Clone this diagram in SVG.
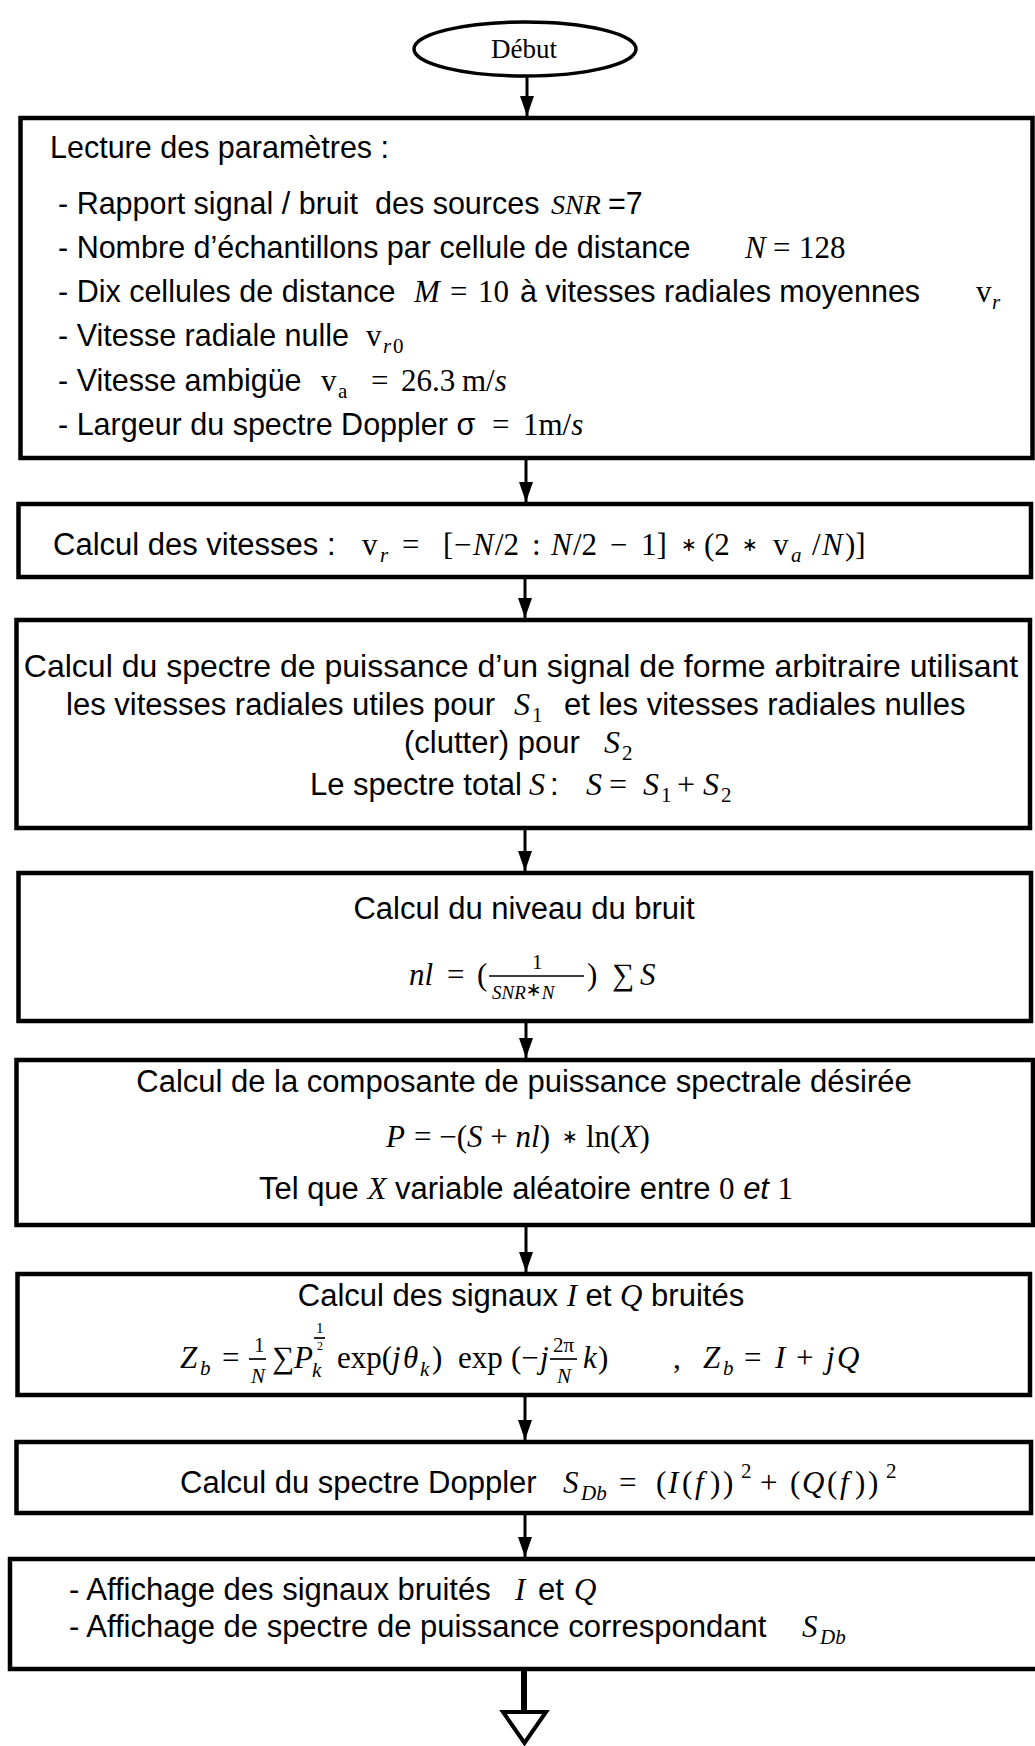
<svg xmlns="http://www.w3.org/2000/svg" width="1035" height="1746" viewBox="0 0 1035 1746">
  <style>
    .box { fill: #fff; stroke: #000; stroke-width: 4.5; }
    .edge { stroke: #000; stroke-width: 3; fill: none; }
    .t { font-family: "Liberation Sans", Arial, sans-serif; font-size: 31px; fill: #000; }
    .t1 { font-size: 30.5px; }
    .t3 { font-size: 32px; }
    .ti { font-family: "Liberation Sans", Arial, sans-serif; font-style: italic; }
    .m { font-family: "Liberation Serif", "Times New Roman", serif; font-size: 31px; font-style: italic; fill: #000; }
    .u { font-family: "Liberation Serif", "Times New Roman", serif; font-style: normal; }
    .i { font-family: "Liberation Serif", "Times New Roman", serif; font-style: italic; }
    .ast { font-family: "DejaVu Sans", sans-serif; font-style: normal; font-size: 19px; }
    .s { font-size: 21px; }
    .xs { font-size: 19px; }
    .c { text-anchor: middle; }
    .bar { stroke: #000; stroke-width: 1.7; }
  </style>
  <defs>
    <marker id="head" viewBox="0 0 20 14" refX="20" refY="7" markerWidth="20" markerHeight="14" markerUnits="userSpaceOnUse" orient="auto">
      <path d="M0,0 L20,7 L0,14 Z" fill="#000"/>
    </marker>
  </defs>

  <!-- connectors -->
  <g id="connectors">
    <line class="edge" x1="527" y1="76" x2="527" y2="116" marker-end="url(#head)"/>
    <line class="edge" x1="526" y1="458" x2="526" y2="502" marker-end="url(#head)"/>
    <line class="edge" x1="525" y1="577" x2="525" y2="618" marker-end="url(#head)"/>
    <line class="edge" x1="525" y1="830" x2="525" y2="871" marker-end="url(#head)"/>
    <line class="edge" x1="526" y1="1021" x2="526" y2="1058" marker-end="url(#head)"/>
    <line class="edge" x1="526" y1="1225" x2="526" y2="1272" marker-end="url(#head)"/>
    <line class="edge" x1="525" y1="1397" x2="525" y2="1440" marker-end="url(#head)"/>
    <line class="edge" x1="525" y1="1513" x2="525" y2="1557" marker-end="url(#head)"/>
    <line x1="524" y1="1669" x2="524" y2="1712" stroke="#000" stroke-width="6"/>
    <path d="M503,1712 L546,1712 L524.5,1743 Z" fill="#fff" stroke="#000" stroke-width="4"/>
  </g>

  <!-- start terminal -->
  <g id="start">
    <ellipse cx="525" cy="49" rx="111" ry="27" fill="#fff" stroke="#000" stroke-width="3.5"/>
    <text x="524" y="58" class="c" font-family="Liberation Serif, Times New Roman, serif" font-size="27">Début</text>
  </g>

  <!-- parameters -->
  <g id="params">
    <rect class="box" x="20.5" y="118" width="1012" height="340"/>
    <text class="t t1" x="50" y="158">Lecture des paramètres :</text>
    <text class="t t1" y="214"><tspan x="58">- Rapport signal / bruit&#160; des sources</tspan><tspan class="i" x="551" font-size="28">SNR</tspan><tspan x="608">=7</tspan></text>
    <text class="t t1" y="258"><tspan x="58">- Nombre d’échantillons par cellule de distance</tspan><tspan class="i" x="745" font-size="31">N</tspan><tspan class="u" x="773" font-size="31">=</tspan><tspan class="u" x="799" font-size="31">128</tspan></text>
    <text class="t t1" y="302"><tspan x="58">- Dix cellules de distance</tspan><tspan class="i" x="414" font-size="31">M</tspan><tspan class="u" x="450" font-size="31">=</tspan><tspan class="u" x="478" font-size="31">10</tspan><tspan x="520">à vitesses radiales moyennes</tspan><tspan class="u" x="976" font-size="31">v</tspan><tspan class="i s" x="992" y="309">r</tspan></text>
    <text class="t t1" y="346"><tspan x="58">- Vitesse radiale nulle</tspan><tspan class="u" x="366" font-size="31">v</tspan><tspan class="i s" x="383" y="353">r</tspan><tspan class="u s" x="393" y="353">0</tspan></text>
    <text class="t t1" y="391"><tspan x="58">- Vitesse ambigüe</tspan><tspan class="u" x="321" font-size="31">v</tspan><tspan class="u s" x="338" y="398">a</tspan><tspan class="u" x="371" y="391" font-size="31">=</tspan><tspan class="u" x="401" font-size="31">26.3</tspan><tspan class="u" x="462" font-size="31">m/</tspan><tspan class="i" font-size="31">s</tspan></text>
    <text class="t t1" y="435"><tspan x="58">- Largeur du spectre Doppler σ</tspan><tspan class="u" x="492" font-size="31">=</tspan><tspan class="u" x="523" font-size="31">1m/</tspan><tspan class="i" font-size="31">s</tspan></text>
  </g>

  <!-- radial speeds -->
  <g id="speeds">
    <rect class="box" x="18.5" y="504" width="1012.5" height="73"/>
    <text class="t" x="53" y="555">Calcul des vitesses :</text>
    <text class="m" y="555" font-size="33">
      <tspan class="u" x="362">v</tspan><tspan class="s" x="380" y="562">r</tspan><tspan class="u" x="402" y="555">=</tspan>
      <tspan class="u" x="443">[</tspan><tspan class="u" x="454">−</tspan><tspan x="473">N</tspan><tspan class="u" x="495">/2</tspan>
      <tspan class="u" x="532">:</tspan>
      <tspan x="551">N</tspan><tspan class="u" x="573">/2</tspan>
      <tspan class="u" x="610">−</tspan><tspan class="u" x="641">1]</tspan>
      <tspan class="ast" x="681" y="551">∗</tspan>
      <tspan class="u" x="704" y="555">(2</tspan><tspan class="ast" x="742" y="551">∗</tspan>
      <tspan class="u" x="773" y="555">v</tspan><tspan class="s" x="791" y="562">a</tspan>
      <tspan class="u" x="812" y="555">/</tspan><tspan x="822">N</tspan><tspan class="u" x="845">)]</tspan>
    </text>
  </g>

  <!-- power spectrum -->
  <g id="spectrum">
    <rect class="box" x="16.5" y="620" width="1013.5" height="208"/>
    <text class="t t3 c" x="521" y="677">Calcul du spectre de puissance d’un signal de forme arbitraire utilisant</text>
    <text class="t" y="715" font-size="31.5"><tspan x="66">les vitesses radiales utiles pour</tspan><tspan class="i" x="514" font-size="32">S</tspan><tspan class="u s" x="532" y="722">1</tspan><tspan x="564" y="715">et les vitesses radiales nulles</tspan></text>
    <text class="t" y="753" font-size="31.5"><tspan x="404">(clutter) pour</tspan><tspan class="i" x="604" font-size="32">S</tspan><tspan class="u s" x="622" y="760">2</tspan></text>
    <text class="t" y="795" font-size="31.5"><tspan x="310">Le spectre total</tspan><tspan class="i" x="529" font-size="32">S</tspan><tspan x="550">:</tspan><tspan class="i" x="586" font-size="32">S</tspan><tspan class="u" x="609" font-size="32">=</tspan><tspan class="i" x="643" font-size="32">S</tspan><tspan class="u s" x="661" y="802">1</tspan><tspan class="u" x="677" y="795" font-size="32">+</tspan><tspan class="i" x="703" font-size="32">S</tspan><tspan class="u s" x="721" y="802">2</tspan></text>
  </g>

  <!-- noise level -->
  <g id="noise">
    <rect class="box" x="18.5" y="873" width="1012.5" height="148"/>
    <text class="t c" x="524" y="919">Calcul du niveau du bruit</text>
    <text class="m" y="985">
      <tspan x="409">nl</tspan><tspan class="u" x="447">=</tspan><tspan class="u" x="477">(</tspan>
      <tspan class="u s" x="532" y="969">1</tspan>
      <tspan class="xs" x="492" y="999">SNR</tspan><tspan class="ast" font-size="13" y="996">∗</tspan><tspan class="xs" y="999">N</tspan>
      <tspan class="u" x="587" y="985">)</tspan><tspan class="u" x="612">∑</tspan><tspan x="640">S</tspan>
    </text>
    <line class="bar" x1="489" y1="976" x2="584" y2="976"/>
  </g>

  <!-- spectral power component -->
  <g id="power">
    <rect class="box" x="16.5" y="1060" width="1016.5" height="165"/>
    <text class="t c" x="524" y="1092" font-size="31.5">Calcul de la composante de puissance spectrale désirée</text>
    <text class="m" y="1147" font-size="32.5"><tspan x="386">P</tspan><tspan class="u" x="414">= −(</tspan><tspan>S</tspan><tspan class="u"> + </tspan><tspan>nl</tspan><tspan class="u">)</tspan><tspan class="ast" x="562" y="1143">∗</tspan><tspan class="u" x="586" y="1147">ln(</tspan><tspan>X</tspan><tspan class="u">)</tspan></text>
    <text class="t c" x="526" y="1199">Tel que <tspan class="i" font-size="31">X</tspan> variable aléatoire entre <tspan class="u" font-size="31">0</tspan> <tspan class="ti">et</tspan> <tspan class="u" font-size="31">1</tspan></text>
  </g>

  <!-- noisy I/Q signals -->
  <g id="iq">
    <rect class="box" x="17.5" y="1274" width="1012.5" height="121"/>
    <text class="t c" x="521" y="1306" font-size="31.5">Calcul des signaux <tspan class="i" font-size="31">I</tspan> et <tspan class="i" font-size="31">Q</tspan> bruités</text>
    <text class="m" y="1368">
      <tspan x="180">Z</tspan><tspan class="s" x="200" y="1375">b</tspan><tspan class="u" x="222" y="1368">=</tspan>
      <tspan class="u s" x="254" y="1352">1</tspan><tspan class="s" x="251" y="1383">N</tspan>
      <tspan class="u" x="272" y="1368">∑</tspan><tspan x="294">P</tspan><tspan class="s" x="312" y="1377">k</tspan>
      <tspan class="u" x="316" y="1333" font-size="15">1</tspan><tspan class="u" x="317" y="1350" font-size="12">2</tspan>
      <tspan class="u" x="337" y="1368">exp(</tspan><tspan x="392">j</tspan><tspan x="403">θ</tspan><tspan class="s" x="420" y="1376">k</tspan><tspan class="u" x="432" y="1368">)</tspan>
      <tspan class="u" x="458">exp</tspan><tspan class="u" x="511">(−</tspan><tspan x="540">j</tspan>
      <tspan class="u s" x="553" y="1352">2π</tspan><tspan class="s" x="557" y="1383">N</tspan>
      <tspan x="583" y="1368">k</tspan><tspan class="u" x="598">)</tspan>
      <tspan class="u" x="673">,</tspan>
      <tspan x="703">Z</tspan><tspan class="s" x="723" y="1375">b</tspan><tspan class="u" x="744" y="1368">=</tspan><tspan x="775">I</tspan><tspan class="u" x="796">+</tspan><tspan x="826">j</tspan><tspan x="837">Q</tspan>
    </text>
    <line class="bar" x1="249" y1="1359" x2="266" y2="1359"/>
    <line class="bar" x1="314" y1="1338" x2="325" y2="1338" stroke-width="1.4"/>
    <line class="bar" x1="550" y1="1359" x2="577" y2="1359"/>
  </g>

  <!-- Doppler spectrum -->
  <g id="doppler">
    <rect class="box" x="16.5" y="1442" width="1014.5" height="71"/>
    <text class="t" x="180" y="1493">Calcul du spectre Doppler</text>
    <text class="m" y="1493" font-size="33">
      <tspan x="563">S</tspan><tspan class="s" x="581" y="1500">Db</tspan><tspan class="u" x="619" y="1493">=</tspan>
      <tspan class="u" x="656">(</tspan><tspan x="668">I</tspan><tspan class="u" x="682">(</tspan><tspan x="695">f</tspan><tspan class="u" x="710">)</tspan><tspan class="u" x="723">)</tspan><tspan class="u s" x="741" y="1478">2</tspan>
      <tspan class="u" x="760" y="1493">+</tspan>
      <tspan class="u" x="790">(</tspan><tspan x="802">Q</tspan><tspan class="u" x="827">(</tspan><tspan x="840">f</tspan><tspan class="u" x="855">)</tspan><tspan class="u" x="868">)</tspan><tspan class="u s" x="886" y="1478">2</tspan>
    </text>
  </g>

  <!-- display -->
  <g id="display">
    <rect class="box" x="10" y="1559" width="1035" height="110"/>
    <text class="t" y="1600"><tspan x="69">- Affichage des signaux bruités</tspan><tspan class="i" x="515" font-size="31">I</tspan><tspan x="538">et</tspan><tspan class="i" x="574" font-size="31">Q</tspan></text>
    <text class="t" y="1637"><tspan x="69">- Affichage de spectre de puissance correspondant</tspan><tspan class="i" x="802" font-size="31">S</tspan><tspan class="i s" x="820" y="1644">Db</tspan></text>
  </g>
</svg>
